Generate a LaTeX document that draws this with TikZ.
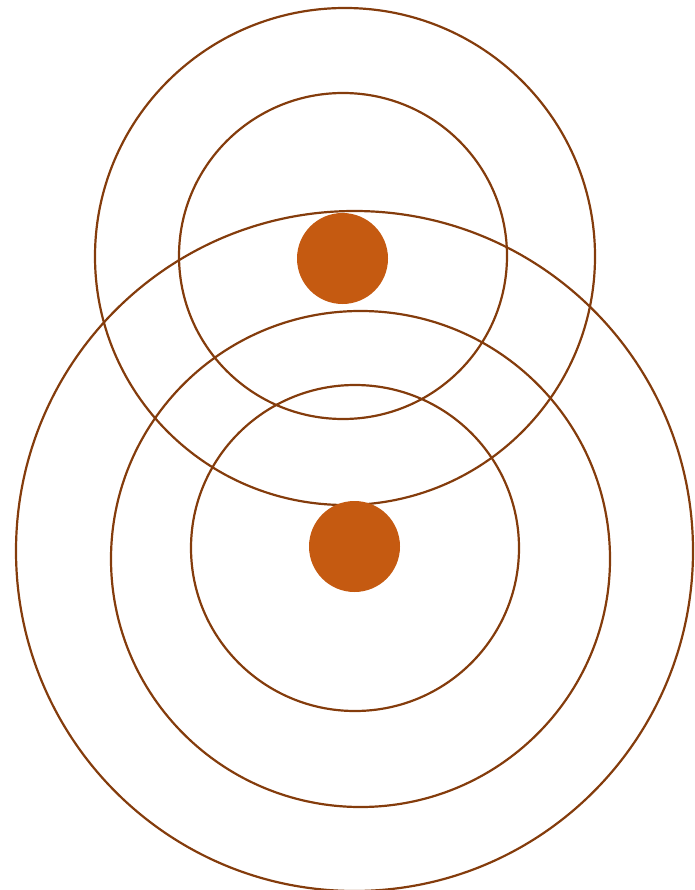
\documentclass[tikz,border=0pt]{standalone}
\begin{document}
\begin{tikzpicture}[x=1pt,y=-1pt,
  ring/.style={draw=ringc,line width=2.2pt},
  dot/.style={fill=dotc}]
\definecolor{ringc}{HTML}{843C0C}
\definecolor{dotc}{HTML}{C55A11}
\useasboundingbox (0,0) rectangle (694,890);
% top group
\draw[ring] (345,256.5) ellipse [x radius=250, y radius=248.5];
\draw[ring] (343,256) ellipse [x radius=164, y radius=163];
\fill[dot] (342.5,258.5) circle [radius=45.5];
% bottom group
\draw[ring] (354.5,551) ellipse [x radius=338.5, y radius=340];
\draw[ring] (360.5,559) ellipse [x radius=249.5, y radius=248];
\draw[ring] (355,548) ellipse [x radius=164, y radius=163];
\fill[dot] (354.5,546.5) circle [radius=45.5];
\end{tikzpicture}
\end{document}
